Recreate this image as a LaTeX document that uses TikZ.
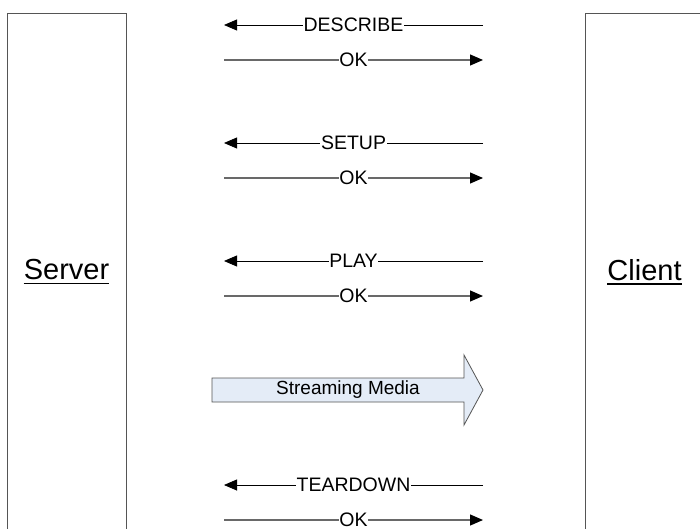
\documentclass[tikz,border=0pt]{standalone}
\usepackage{fontspec}
\setmainfont{Liberation Sans}
\usetikzlibrary{arrows.meta}
\definecolor{boxgray}{RGB}{85,85,85}
\definecolor{respgray}{RGB}{105,105,105}
\definecolor{streamblue}{RGB}{228,236,247}
\begin{document}
\begin{tikzpicture}[x=1pt,y=-1pt,
  lane/.style={draw=boxgray, line width=0.9pt, fill=white, anchor=north west,
    minimum width=119pt, minimum height=540pt, inner sep=0pt},
  lanelabel/.style={font=\fontsize{29}{30}\selectfont, inner sep=0pt},
  tip/.style={-{Triangle[length=13pt,width=11pt,color=black,fill=black]}},
  req/.style={draw=black, line width=0.8pt, tip},
  resp/.style={draw=respgray, line width=1.2pt, tip},
  msg/.style={fill=white, inner sep=0.6pt, font=\fontsize{19.5}{20}\selectfont, text=black},
  streamshape/.style={draw=boxgray, line width=0.8pt, fill=streamblue}]
\clip (0,0) rectangle (700,529);
\fill[white] (0,0) rectangle (700,529);

% lanes
\node[lane] (server) at (7,13) {};
\node[lane] (client) at (585,13) {};
\node[lanelabel] (serverlbl) at (66.5,270) {Server};
\node[lanelabel] (clientlbl) at (644.5,270) {Client};
\draw[line width=1.8pt] ([yshift=-3.5pt]serverlbl.base west) -- ([yshift=-3.5pt]serverlbl.base east);
\draw[line width=1.8pt] ([yshift=-3.5pt]clientlbl.base west) -- ([yshift=-3.5pt]clientlbl.base east);

% message end points
\foreach \n/\y in {a/25,b/60,c/143,d/178,e/261,f/296,g/485,h/520}{
  \coordinate (\n L) at (224,\y);
  \coordinate (\n R) at (483,\y);
}

\draw[req] (aR) -- node[msg] (m1) {DESCRIBE} (aL);
\draw[resp] (bL) -- node[msg] (m2) {OK} (bR);
\draw[req] (cR) -- node[msg] (m3) {SETUP} (cL);
\draw[resp] (dL) -- node[msg] (m4) {OK} (dR);
\draw[req] (eR) -- node[msg] (m5) {PLAY} (eL);
\draw[resp] (fL) -- node[msg] (m6) {OK} (fR);
\draw[req] (gR) -- node[msg] (m7) {TEARDOWN} (gL);
\draw[resp] (hL) -- node[msg] (m8) {OK} (hR);

% streaming media arrow
\draw[streamshape] (212,378) -- (464,378) -- (464,355) -- (483,390) -- (464,425) -- (464,402) -- (212,402) -- cycle;
\node[font=\fontsize{19}{20}\selectfont, inner sep=0pt] (stream) at (348,390) {Streaming Media};
\end{tikzpicture}
\end{document}
